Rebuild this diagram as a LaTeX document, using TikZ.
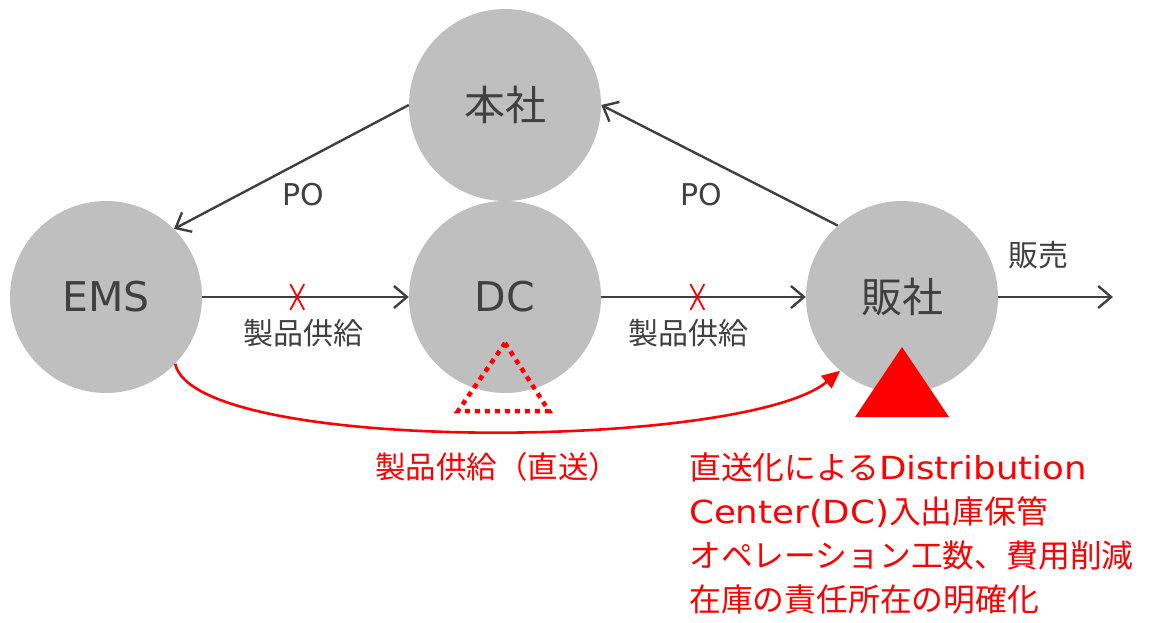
\documentclass[tikz,border=0pt]{standalone}
\usepackage{fontspec}
\setmainfont{DejaVu Sans}
\newfontfamily\cjk{Noto Sans CJK JP}
\newfontfamily\wlat[FakeStretch=1.12]{DejaVu Sans}
\usetikzlibrary{arrows.meta,shapes.misc}
\definecolor{cgray}{HTML}{BFBFBF}
\definecolor{tgray}{HTML}{404040}
\definecolor{myred}{HTML}{FF0000}
\begin{document}
\begin{tikzpicture}[x=1pt,y=-1pt,
  circ/.style={circle,fill=cgray,minimum size=192pt,inner sep=0pt,text=tgray,font=\fontsize{41}{48}\selectfont},
  flow/.style={draw=tgray,line width=2.4pt,-{Straight Barb[length=13pt,width=22pt,line width=2.4pt]}},
  lbl/.style={text=tgray,font=\fontsize{30}{36}\selectfont,inner sep=0pt},
  xmark/.style={cross out,draw=myred,line width=1.8pt,minimum width=12pt,minimum height=24pt,inner sep=0pt},
  redtxt/.style={text=myred,inner sep=0pt}
]
\path[use as bounding box] (0,0) rectangle (1149,623);

\node[circ] (hq) at (505,105) {\cjk 本社};
\node[circ] (ems) at (106,297) {EMS};
\node[circ] (dc) at (505,297) {DC};
\node[circ] (sales) at (902,297) {\cjk 販社};
\coordinate (out) at (1113,297);

\draw[flow] (hq.west) -- (ems.45);
\draw[flow] (sales.132) -- (hq.east);
\draw[flow] (ems.east) -- coordinate[pos=0.46] (x1) (dc.west);
\draw[flow] (dc.east) -- coordinate[pos=0.47] (x2) (sales.west);
\draw[flow] (sales.east) -- (out);
\node[xmark] at (x1) {};
\node[xmark] at (x2) {};

\node[lbl] at (303,195) {PO};
\node[lbl] at (701,195) {PO};
\node[lbl] at (303,333) {\cjk 製品供給};
\node[lbl] at (688,333) {\cjk 製品供給};
\node[lbl] at (1038,255) {\cjk 販売};

% dotted triangle at DC
\draw[myred,line width=4.5pt,dash pattern=on 5pt off 5pt] (505,343) -- (549,411) -- (458,411) -- cycle;
% solid triangle at sales
\fill[myred] (902,347) -- (949,417) -- (855,417) -- cycle;

% direct supply curve
\draw[myred,line width=2.6pt,-{Triangle[length=18pt,width=16pt]}] (ems.-44) .. controls (195,455) and (745,450) .. (sales.230);

\node[redtxt,font=\fontsize{30.5}{36}\selectfont] at (497,467) {\cjk 製品供給（直送）};
\node[redtxt,anchor=north west,align=left,font=\fontsize{31.8}{44.3}\selectfont] at (689,452)
  {{\cjk 直送化による}{\wlat Distribution}\\{\wlat Center(DC)}{\cjk 入出庫保管}\\{\cjk オペレーション工数、費用削減}\\{\cjk 在庫の責任所在の明確化}};
\end{tikzpicture}
\end{document}
